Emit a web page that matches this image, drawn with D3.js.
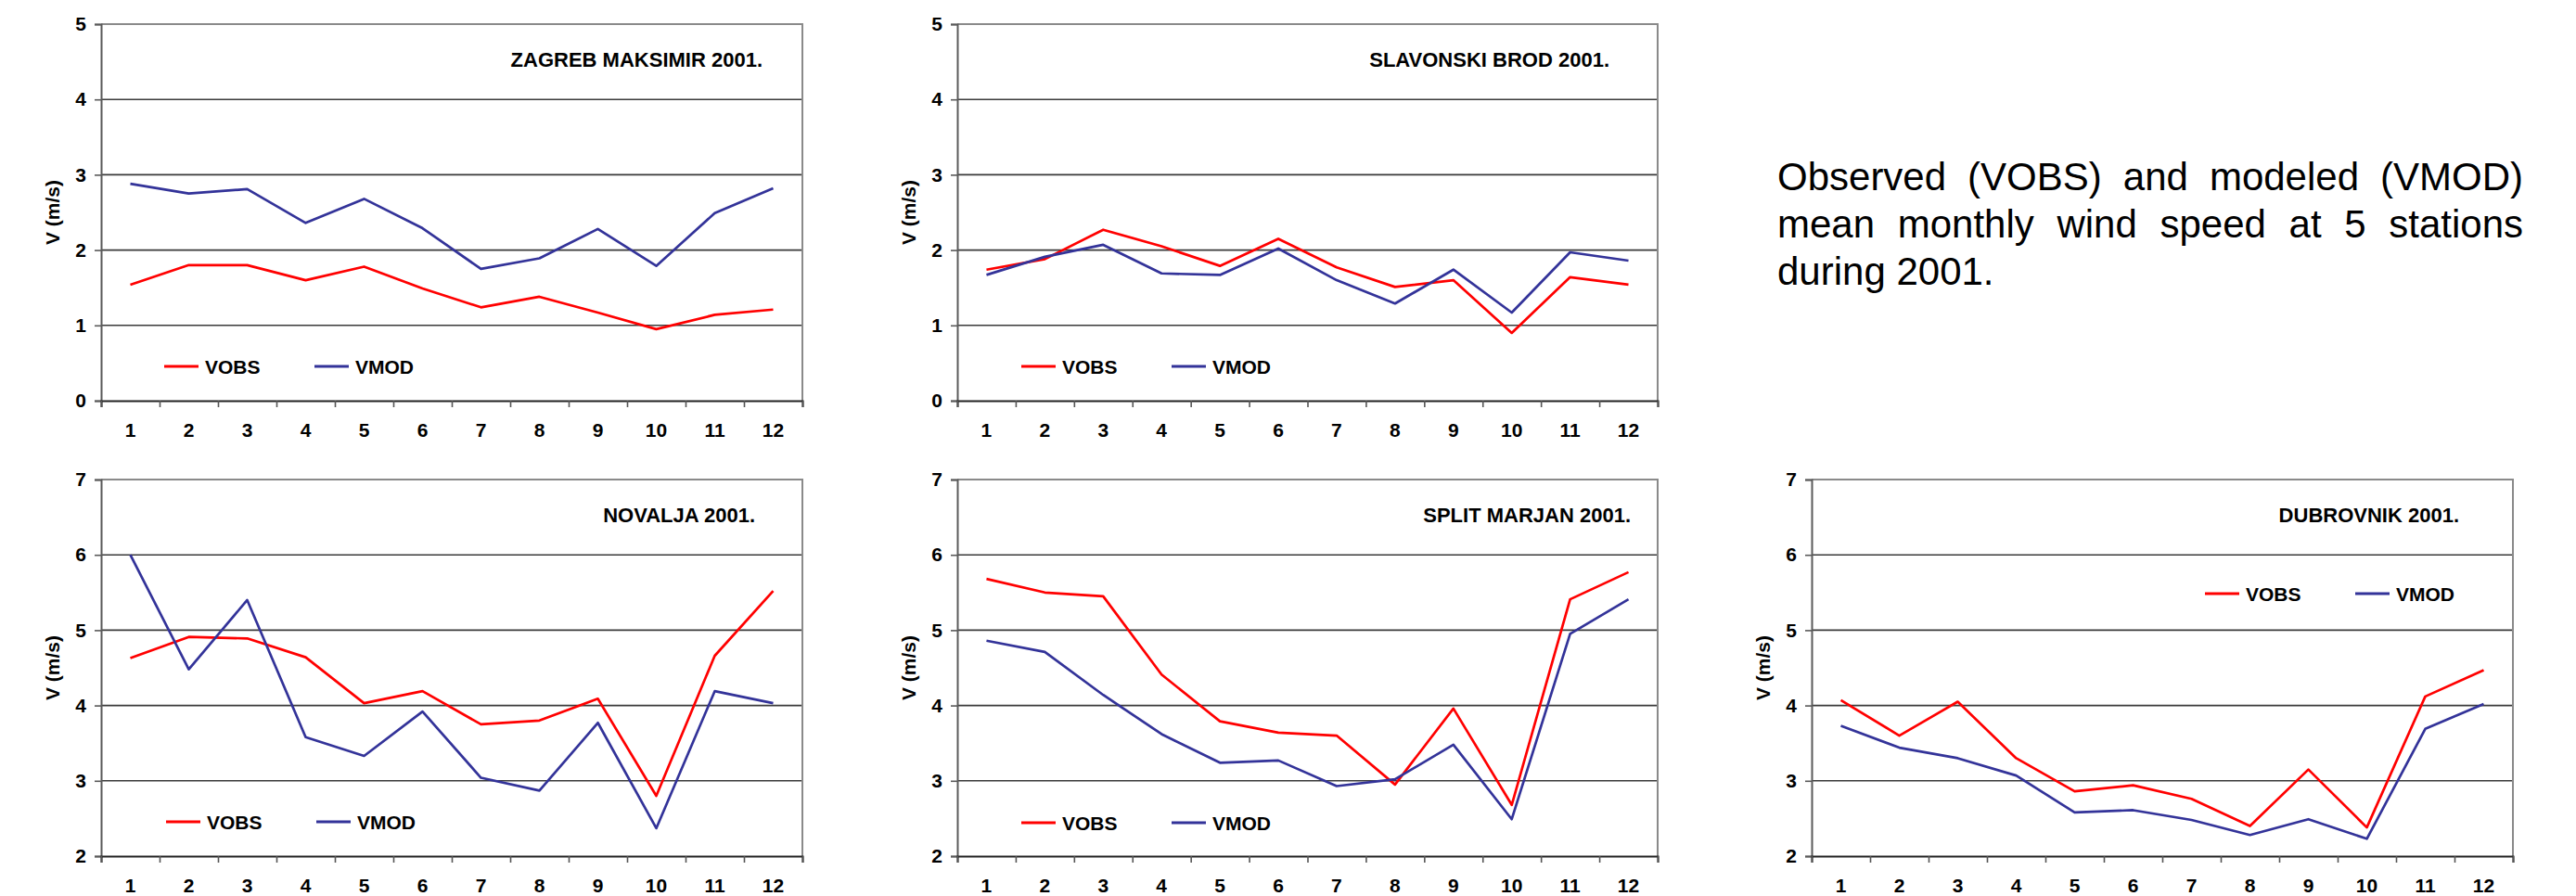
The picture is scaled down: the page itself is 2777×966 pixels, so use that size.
<!DOCTYPE html>
<html><head><meta charset="utf-8">
<script src="https://cdn.jsdelivr.net/npm/d3@7"></script>
<style>
body{margin:0;background:#fff}
svg{display:block}
text{font-family:"Liberation Sans",Arial,Helvetica,sans-serif}
</style>
</head><body>
<svg id="chart" width="2777" height="966"></svg>
<script>
// ---------------- DATA ----------------
const months = ["1","2","3","4","5","6","7","8","9","10","11","12"];
const seriesNames = ["VOBS", "VMOD"];
const stationTitles = ["ZAGREB MAKSIMIR 2001.", "SLAVONSKI BROD 2001.", "NOVALJA 2001.", "SPLIT MARJAN 2001.", "DUBROVNIK 2001."];
const yTicksTop = [0, 1, 2, 3, 4, 5];
const yTicksBottom = [2, 3, 4, 5, 6, 7];
const yAxisTitle = "V (m/s)";

const zagrebVOBS = [1.54, 1.80, 1.80, 1.60, 1.78, 1.49, 1.24, 1.38, 1.17, 0.95, 1.14, 1.21];
const zagrebVMOD = [2.88, 2.75, 2.81, 2.36, 2.68, 2.29, 1.75, 1.89, 2.28, 1.79, 2.49, 2.82];

const brodVOBS = [1.74, 1.88, 2.27, 2.05, 1.79, 2.15, 1.77, 1.51, 1.60, 0.90, 1.64, 1.54];
const brodVMOD = [1.67, 1.91, 2.07, 1.69, 1.67, 2.02, 1.60, 1.29, 1.74, 1.17, 1.97, 1.86];

const novaljaVOBS = [4.63, 4.91, 4.89, 4.64, 4.03, 4.19, 3.75, 3.80, 4.09, 2.80, 4.66, 5.52];
const novaljaVMOD = [6.00, 4.48, 5.40, 3.58, 3.33, 3.92, 3.04, 2.87, 3.77, 2.37, 4.19, 4.03];

const splitVOBS = [5.68, 5.50, 5.45, 4.41, 3.79, 3.64, 3.60, 2.95, 3.96, 2.68, 5.41, 5.77];
const splitVMOD = [4.86, 4.71, 4.14, 3.62, 3.24, 3.27, 2.93, 3.02, 3.48, 2.49, 4.95, 5.41];

const dubrovnikVOBS = [4.07, 3.60, 4.05, 3.30, 2.86, 2.94, 2.76, 2.40, 3.15, 2.38, 4.12, 4.47];
const dubrovnikVMOD = [3.73, 3.44, 3.30, 3.07, 2.58, 2.61, 2.48, 2.28, 2.49, 2.23, 3.69, 4.02];

const captionLines = ["Observed (VOBS) and modeled (VMOD)", "mean monthly wind speed at 5 stations", "during 2001."];

// ---------------- LAYOUT ----------------
const colors = {VOBS: "#ff0000", VMOD: "#333399"};
const panels = [
  {title: stationTitles[0], obs: zagrebVOBS, mod: zagrebVMOD, ticks: yTicksTop,
   x0: 109, x1: 865, y0: 26, y1: 432, titleEnd: 822, legX: 68, legY: 369},
  {title: stationTitles[1], obs: brodVOBS, mod: brodVMOD, ticks: yTicksTop,
   x0: 1032, x1: 1787, y0: 26, y1: 432, titleEnd: 1735, legX: 69, legY: 369},
  {title: stationTitles[2], obs: novaljaVOBS, mod: novaljaVMOD, ticks: yTicksBottom,
   x0: 109, x1: 865, y0: 517, y1: 923, titleEnd: 814, legX: 70, legY: 369},
  {title: stationTitles[3], obs: splitVOBS, mod: splitVMOD, ticks: yTicksBottom,
   x0: 1032, x1: 1787, y0: 517, y1: 923, titleEnd: 1758, legX: 69, legY: 370},
  {title: stationTitles[4], obs: dubrovnikVOBS, mod: dubrovnikVMOD, ticks: yTicksBottom,
   x0: 1953, x1: 2709, y0: 517, y1: 923, titleEnd: 2651, legX: 424, legY: 123}
];

const svg = d3.select("#chart");

panels.forEach(p => {
  const g = svg.append("g");
  const x = d3.scaleBand().domain(months).range([p.x0, p.x1]);
  const xb = d3.scaleLinear().domain([0, months.length]).range([p.x0, p.x1]);
  const y = d3.scaleLinear().domain(d3.extent(p.ticks)).range([p.y1, p.y0]);

  // grid lines
  g.append("g").selectAll("line")
    .data(p.ticks.slice(1, -1))
    .join("line")
    .attr("x1", p.x0).attr("x2", p.x1)
    .attr("y1", d => y(d)).attr("y2", d => y(d))
    .attr("stroke", "#3a3a3a").attr("stroke-width", 1.6);

  // top & right border
  g.append("path")
    .attr("d", `M${p.x0},${y(p.ticks[p.ticks.length-1])}H${p.x1}V${p.y1}`)
    .attr("fill", "none").attr("stroke", "#8a8a8a").attr("stroke-width", 2);

  // y axis
  const ya = g.append("g").attr("transform", `translate(${p.x0},0)`)
    .call(d3.axisLeft(y).tickValues(p.ticks).tickSize(7).tickPadding(9).tickFormat(d3.format("d")));
  ya.select(".domain").attr("stroke", "#5a5a5a").attr("stroke-width", 2);
  ya.selectAll(".tick line").attr("stroke", "#5a5a5a").attr("stroke-width", 1.6);
  ya.selectAll("text").attr("font-size", 21).attr("font-weight", "bold")
    .attr("font-family", "'Liberation Sans',Arial,sans-serif").attr("fill", "#000");

  // x axis: boundary ticks
  const xa = g.append("g").attr("transform", `translate(0,${p.y1})`)
    .call(d3.axisBottom(xb).tickValues(d3.range(0, months.length + 1)).tickSize(7).tickFormat(""));
  xa.select(".domain").attr("stroke", "#222").attr("stroke-width", 2);
  xa.selectAll(".tick line").attr("stroke", "#555").attr("stroke-width", 1.6);

  // x axis labels at band centres
  const xl = g.append("g").attr("transform", `translate(0,${p.y1})`)
    .call(d3.axisBottom(x).tickSize(0).tickPadding(24));
  xl.select(".domain").remove();
  xl.selectAll("text").attr("font-size", 21).attr("font-weight", "bold")
    .attr("font-family", "'Liberation Sans',Arial,sans-serif").attr("fill", "#000");

  // y axis title
  g.append("text")
    .attr("transform", `translate(${p.x0 - 52},${(p.y0 + p.y1) / 2}) rotate(-90)`)
    .attr("text-anchor", "middle").attr("dy", "0.35em")
    .attr("font-size", 21).attr("font-weight", "bold").text(yAxisTitle);

  // station title
  g.append("text")
    .attr("x", p.titleEnd).attr("y", p.y0 + 46)
    .attr("text-anchor", "end")
    .attr("font-size", 22).attr("font-weight", "bold").text(p.title);

  // lines
  const line = d3.line().x((d, i) => x(months[i]) + x.bandwidth() / 2).y(d => y(d));
  [["VOBS", p.obs], ["VMOD", p.mod]].forEach(([name, vals]) => {
    g.append("path").datum(vals)
      .attr("d", line)
      .attr("fill", "none").attr("stroke", colors[name])
      .attr("stroke-width", 2.7).attr("stroke-linejoin", "round");
  });

  // legend
  const lg = g.append("g").attr("transform", `translate(${p.x0 + p.legX},${p.y0 + p.legY})`);
  seriesNames.forEach((name, i) => {
    const item = lg.append("g").attr("transform", `translate(${i * 162},0)`);
    item.append("line").attr("x1", 0).attr("x2", 37).attr("y1", 0).attr("y2", 0)
      .attr("stroke", colors[name]).attr("stroke-width", 3);
    item.append("text").attr("x", 44).attr("dy", "0.36em")
      .attr("font-size", 21).attr("font-weight", "bold").text(name);
  });
});

// caption (justified)
const capX = 1916, capW = 804, capY0 = 205, capLH = 51;
captionLines.forEach((ln, li) => {
  const words = ln.split(" ");
  const yy = capY0 + li * capLH;
  const justify = li < captionLines.length - 1;
  if (!justify) {
    svg.append("text").attr("x", capX).attr("y", yy).attr("font-size", 42).attr("fill", "#000").text(ln);
    return;
  }
  const tg = svg.append("g");
  const nodes = words.map(w => tg.append("text").attr("y", yy).attr("font-size", 42).attr("fill", "#000").text(w));
  const widths = nodes.map(n => n.node().getComputedTextLength());
  const gap = (capW - d3.sum(widths)) / (words.length - 1);
  let cx = capX;
  nodes.forEach((n, i) => { n.attr("x", cx); cx += widths[i] + gap; });
});
</script>
</body></html>
